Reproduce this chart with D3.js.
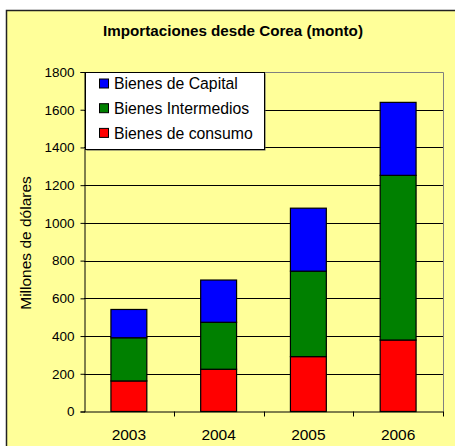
<!DOCTYPE html>
<html>
<head>
<meta charset="utf-8">
<script src="https://cdn.jsdelivr.net/npm/d3@7"></script>
<style>
  body { margin: 0; background: #fff; }
  text { font-family: Arial, "Liberation Sans", sans-serif; fill: #000; }
</style>
</head>
<body>
<svg id="chart"></svg>
<script>
const chartWidth = 455;
const chartHeight = 446;

// data (millones de dólares)
const years = ["2003", "2004", "2005", "2006"];
const consumo = [162, 224, 291, 379];
const intermedios = [229, 249, 453, 873];
const capital = [150, 224, 334, 387];
const yTicks = [0, 200, 400, 600, 800, 1000, 1200, 1400, 1600, 1800];
const seriesNames = ["Bienes de consumo", "Bienes Intermedios", "Bienes de Capital"];
const seriesColors = ["#ff0000", "#008000", "#0000ff"];

const plot = { left: 84, right: 443, top: 72, bottom: 411.5 };

const svg = d3.select("#chart")
  .attr("width", chartWidth)
  .attr("height", chartHeight);

// chart area background + frame
svg.append("rect")
  .attr("x", 6.5).attr("y", 10.5)
  .attr("width", 460).attr("height", 450)
  .attr("fill", "#ffff99")
  .attr("stroke", "#222")
  .attr("stroke-width", 1.5);

// Chart Title
svg.append("text")
  .attr("x", 233)
  .attr("y", 36)
  .attr("text-anchor", "middle")
  .style("font-size", "15.2px")
  .style("font-weight", "bold")
  .text("Importaciones desde Corea (monto)");

const x = d3.scaleBand()
  .domain(years)
  .range([plot.left, plot.right])
  .padding(0);

const y = d3.scaleLinear()
  .domain([0, 1800])
  .range([plot.bottom, plot.top]);

// gridlines
svg.append("g")
  .selectAll("line")
  .data(yTicks.filter(d => d > 0 && d < 1800))
  .enter()
  .append("line")
  .attr("x1", plot.left).attr("x2", plot.right)
  .attr("y1", d => Math.round(y(d)) + 0.5)
  .attr("y2", d => Math.round(y(d)) + 0.5)
  .attr("stroke", "#000")
  .attr("stroke-width", 1);

// plot border top/right (gray)
svg.append("path")
  .attr("d", `M${plot.left},${plot.top + 0.5}H${plot.right + 0.5}V${plot.bottom}`)
  .attr("fill", "none")
  .attr("stroke", "#808080")
  .attr("stroke-width", 1);

// stacked bars
const table = years.map((yr, i) => ({
  year: yr,
  "Bienes de consumo": consumo[i],
  "Bienes Intermedios": intermedios[i],
  "Bienes de Capital": capital[i]
}));
const stack = d3.stack().keys(seriesNames);
const color = d3.scaleOrdinal().domain(seriesNames).range(seriesColors);
const barWidth = x.bandwidth() * 0.4;

svg.append("g")
  .selectAll("g")
  .data(stack(table))
  .enter()
  .append("g")
  .attr("fill", d => color(d.key))
  .selectAll("rect")
  .data(d => d)
  .enter()
  .append("rect")
  .attr("x", d => x(d.data.year) + (x.bandwidth() - barWidth) / 2)
  .attr("y", d => y(d[1]))
  .attr("width", barWidth)
  .attr("height", d => y(d[0]) - y(d[1]))
  .attr("stroke", "#000")
  .attr("stroke-width", 1.2);

// y axis
const yAxis = svg.append("g")
  .attr("transform", `translate(${plot.left + 0.5},0)`)
  .call(d3.axisLeft(y).tickValues(yTicks).tickSize(4).tickPadding(6).tickFormat(d3.format("d")));
yAxis.select(".domain").attr("stroke", "#000");
yAxis.selectAll(".tick line").attr("stroke", "#000");
yAxis.selectAll("text")
  .style("font-size", "13.5px")
  .style("font-family", "Arial, 'Liberation Sans', sans-serif")
  .attr("fill", "#000");

// x axis: ticks at category boundaries
svg.append("line")
  .attr("x1", plot.left).attr("x2", plot.right + 0.5)
  .attr("y1", plot.bottom + 0.5).attr("y2", plot.bottom + 0.5)
  .attr("stroke", "#000");
svg.append("g")
  .selectAll("line")
  .data(years.slice(1).concat(["end"]))
  .enter()
  .append("line")
  .attr("x1", (d, i) => Math.round(x.range()[0] + x.step() * (i + 1)) + 0.5)
  .attr("x2", (d, i) => Math.round(x.range()[0] + x.step() * (i + 1)) + 0.5)
  .attr("y1", plot.bottom)
  .attr("y2", plot.bottom + 5)
  .attr("stroke", "#000");
svg.append("g")
  .selectAll("text")
  .data(years)
  .enter()
  .append("text")
  .attr("x", d => x(d) + x.bandwidth() / 2)
  .attr("y", 440)
  .attr("text-anchor", "middle")
  .style("font-size", "15.5px")
  .text(d => d);

// y axis title
svg.append("text")
  .attr("transform", "translate(31,243) rotate(-90)")
  .attr("text-anchor", "middle")
  .style("font-size", "15.5px")
  .text("Millones de dólares");

// legend
const legend = svg.append("g").attr("transform", "translate(85,72)");
legend.append("rect")
  .attr("x", 1.5).attr("y", 1.5)
  .attr("width", 179).attr("height", 77)
  .attr("fill", "#555");
legend.append("rect")
  .attr("x", 0.5).attr("y", 0.5)
  .attr("width", 179).attr("height", 77)
  .attr("fill", "#fff")
  .attr("stroke", "#000");

const legendItems = legend.selectAll("g.item")
  .data(seriesNames.slice().reverse())
  .enter()
  .append("g")
  .attr("class", "item")
  .attr("transform", (d, i) => `translate(14,${11.5 + i * 24.7})`);
legendItems.append("rect")
  .attr("x", 0.5).attr("y", -4.5)
  .attr("width", 9).attr("height", 9)
  .attr("fill", d => color(d))
  .attr("stroke", "#000");
legendItems.append("text")
  .attr("x", 15)
  .attr("y", 0)
  .attr("dy", "0.36em")
  .style("font-size", "15.8px")
  .text(d => d);
</script>
</body>
</html>
